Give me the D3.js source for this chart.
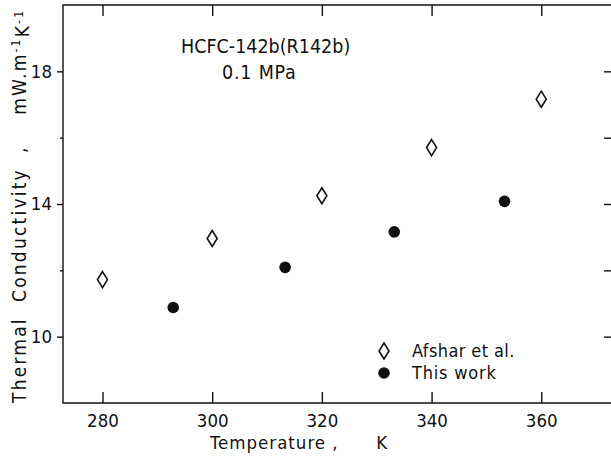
<!DOCTYPE html>
<html>
<head>
<meta charset="utf-8">
<script src="https://cdn.jsdelivr.net/npm/d3@7"></script>
<style>
  body { margin: 0; background: #fff; }
  text { font-family: "DejaVu Sans Condensed", "DejaVu Sans", sans-serif; fill: #111; }
</style>
</head>
<body>
<div id="chart"></div>
<script>
// readings
const afsharT = [280, 300, 320, 340, 360];
const afsharK = [11.72, 12.96, 14.25, 15.70, 17.16];
const thisT = [292.9, 313.3, 333.2, 353.3];
const thisK = [10.88, 12.09, 13.16, 14.08];
const xTicks = [280, 300, 320, 340, 360];
const yTicks = [10, 12, 14, 16, 18];
const yLabelled = [10, 14, 18];

const width = 611, height = 461;
const mLeft = 63, mRight = 612, mTop = 5, mBottom = 403;

const svg = d3.select("#chart").append("svg")
  .attr("width", width)
  .attr("height", height);

const x = d3.scaleLinear().domain([272.8, 372.9]).range([mLeft, mRight]);
const y = d3.scaleLinear().domain([8, 20]).range([mBottom, mTop]);

const ink = "#111";

// frame lines (right side runs off the page)
svg.append("path")
  .attr("d", `M${mRight},${mTop}H${mLeft}V${mBottom}H${mRight}`)
  .attr("fill", "none").attr("stroke", ink).attr("stroke-width", 1.4);

// bottom axis, ticks pointing in
const xb = svg.append("g")
  .attr("transform", `translate(0,${mBottom})`)
  .call(d3.axisBottom(x).tickValues(xTicks).tickSize(-11).tickSizeOuter(0).tickPadding(11));
xb.select(".domain").remove();
xb.selectAll("line").attr("stroke", ink).attr("stroke-width", 1.4);
xb.selectAll("text").attr("font-size", 18.5).attr("dy", "0.71em");

// top axis, ticks only
const xt = svg.append("g")
  .attr("transform", `translate(0,${mTop})`)
  .call(d3.axisTop(x).tickValues(xTicks).tickSize(-11).tickSizeOuter(0).tickFormat(""));
xt.select(".domain").remove();
xt.selectAll("line").attr("stroke", ink).attr("stroke-width", 1.4);

// left axis, short ticks outward
const yl = svg.append("g")
  .attr("transform", `translate(${mLeft},0)`)
  .call(d3.axisLeft(y).tickValues(yTicks).tickSize(6).tickSizeOuter(0).tickPadding(5)
    .tickFormat(d => yLabelled.includes(d) ? d : ""));
yl.select(".domain").remove();
yl.selectAll("line").attr("stroke", ink).attr("stroke-width", 1.4)
  .attr("x2", d => yLabelled.includes(d) ? -6 : -3);
yl.selectAll("text").attr("font-size", 18.5);

// right axis, ticks pointing in
const yr = svg.append("g")
  .attr("transform", `translate(${mRight - 1},0)`)
  .call(d3.axisRight(y).tickValues(yTicks).tickSize(-7).tickSizeOuter(0).tickFormat(""));
yr.select(".domain").remove();
yr.selectAll("line").attr("stroke", ink).attr("stroke-width", 1.4);

// Afshar et al. : open diamonds
const diamond = "M0,-8L5,0L0,8L-5,0Z";
svg.append("g").selectAll("path")
  .data(afsharT.map((t, i) => [t, afsharK[i]]))
  .join("path")
  .attr("d", diamond)
  .attr("transform", d => `translate(${x(d[0])},${y(d[1])})`)
  .attr("fill", "#fff").attr("stroke", ink).attr("stroke-width", 1.6);

// this work : filled circles
svg.append("g").selectAll("circle")
  .data(thisT.map((t, i) => [t, thisK[i]]))
  .join("circle")
  .attr("cx", d => x(d[0]))
  .attr("cy", d => y(d[1]))
  .attr("r", 5.8)
  .attr("fill", ink);

// legend
const lg = svg.append("g").attr("transform", "translate(384,351)");
lg.append("path").attr("d", diamond).attr("fill", "#fff").attr("stroke", ink).attr("stroke-width", 1.6);
lg.append("text").attr("x", 28).attr("y", 0).attr("dy", "0.35em").attr("font-size", 18)
  .attr("letter-spacing", 0.4).text("Afshar et al.");
lg.append("circle").attr("cx", 0).attr("cy", 22).attr("r", 5.8).attr("fill", ink);
lg.append("text").attr("x", 28).attr("y", 22).attr("dy", "0.35em").attr("font-size", 18)
  .attr("letter-spacing", 0.8).text("This work");

// substance note
svg.append("text").attr("x", 181).attr("y", 46).attr("dy", "0.35em").attr("font-size", 19.5)
  .text("HCFC-142b(R142b)");
svg.append("text").attr("x", 222).attr("y", 72).attr("dy", "0.35em").attr("font-size", 19.5)
  .attr("letter-spacing", 0.8).text("0.1 MPa");

// axis titles
svg.append("text").attr("x", 210).attr("y", 443).attr("dy", "0.35em").attr("font-size", 18.5)
  .attr("letter-spacing", 1).style("white-space", "pre")
  .text("Temperature ,      K");

const yt = svg.append("text")
  .attr("transform", `translate(19,403) rotate(-90)`)
  .attr("dy", "0.35em").attr("font-size", 19).attr("letter-spacing", 2.2)
  .style("white-space", "pre");
yt.append("tspan").text("Thermal  Conductivity  ,    mW.m");
yt.append("tspan").attr("dy", "-0.45em").attr("font-size", 12).text("-1");
yt.append("tspan").attr("dy", "0.45em").text("K");
yt.append("tspan").attr("dy", "-0.45em").attr("font-size", 12).text("-1");
</script>
</body>
</html>
